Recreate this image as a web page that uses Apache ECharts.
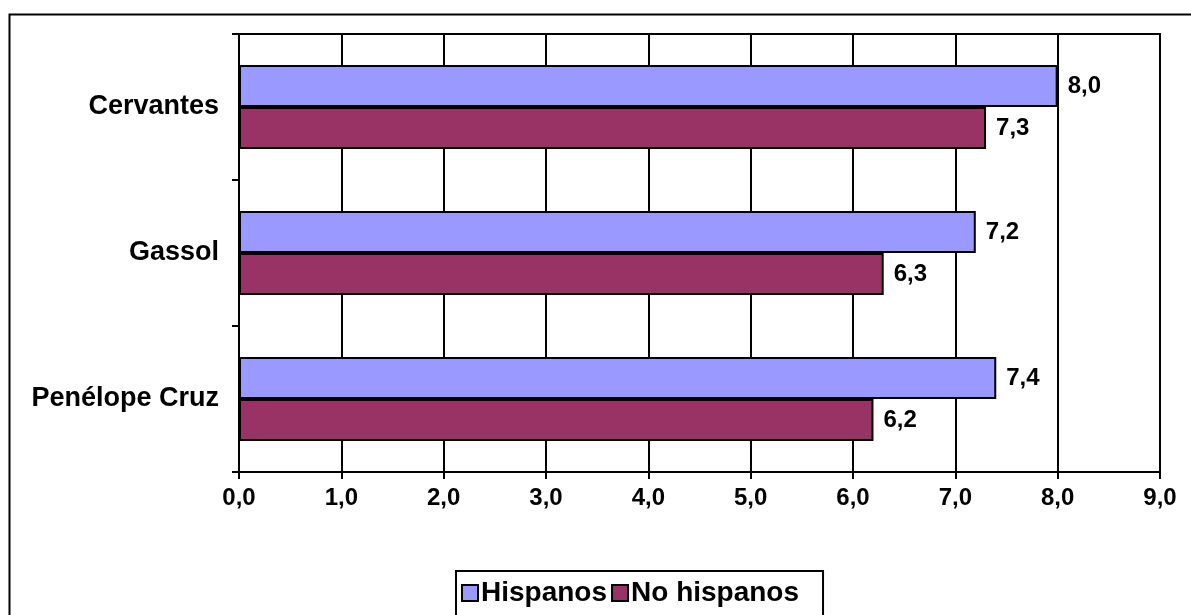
<!DOCTYPE html>
<html><head><meta charset="utf-8">
<script src="https://cdn.jsdelivr.net/npm/echarts@6/dist/echarts.min.js"></script>
<style>html,body{margin:0;padding:0;background:#fff}#c{width:1191px;height:615px}</style>
</head><body><div id="c"></div>
<script>
var categories = ['Cervantes', 'Gassol', 'Penélope Cruz'];
var hispanos = [8.0, 7.2, 7.4];
var noHispanos = [7.3, 6.3, 6.2];
var seriesNames = ['Hispanos', 'No hispanos'];
var xTicks = [0, 9, 1];

var fmt = function (v) { return Number(v).toFixed(1).replace('.', ','); };
var font = 'Arial, "Liberation Sans", sans-serif';
var chart = echarts.init(document.getElementById('c'), null, {renderer: 'canvas'});
var labelStyle = {show: true, position: 'right', distance: 10, color: '#000', fontFamily: font, fontWeight: 'bold', fontSize: 24, formatter: function (p) { return fmt(p.value); }};
chart.setOption({
  animation: false,
  backgroundColor: '#fff',
  graphic: [{type: 'rect', left: 7, top: 12, shape: {width: 1300, height: 700}, style: {fill: 'none', stroke: '#000', lineWidth: 2}, z: -1}],
  grid: {left: 239, right: 31, top: 34, bottom: 143, show: true, borderColor: '#000', borderWidth: 2},
  legend: {
    data: seriesNames, left: 456, top: 571, orient: 'horizontal',
    borderColor: '#000', borderWidth: 2, padding: [8, 24, 30, 5], itemGap: 4,
    itemWidth: 16, itemHeight: 16, icon: 'rect',
    itemStyle: {borderColor: '#000', borderWidth: 2},
    textStyle: {fontFamily: font, fontWeight: 'bold', fontSize: 28, color: '#000', padding: [0, 0, 0, -2]}
  },
  xAxis: {
    type: 'value', min: xTicks[0], max: xTicks[1], interval: xTicks[2],
    axisLine: {show: true, lineStyle: {color: '#000', width: 2}},
    axisTick: {show: true, length: 7, lineStyle: {color: '#000', width: 2}},
    splitLine: {show: true, lineStyle: {color: '#000', width: 2}},
    axisLabel: {formatter: fmt, margin: 14, color: '#000', fontFamily: font, fontWeight: 'bold', fontSize: 24}
  },
  yAxis: {
    type: 'category', data: categories, inverse: true,
    axisLine: {show: true, lineStyle: {color: '#000', width: 2}},
    axisTick: {show: true, length: 7, inside: false, lineStyle: {color: '#000', width: 2}},
    axisLabel: {margin: 20, color: '#000', fontFamily: font, fontWeight: 'bold', fontSize: 27}
  },
  series: [
    {name: seriesNames[0], type: 'bar', data: hispanos, barWidth: 42, barGap: '0%', barCategoryGap: '42%',
     itemStyle: {color: '#9999FF', borderColor: '#000', borderWidth: 2}, label: labelStyle},
    {name: seriesNames[1], type: 'bar', data: noHispanos, barWidth: 42, barGap: '0%',
     itemStyle: {color: '#993366', borderColor: '#000', borderWidth: 2}, label: labelStyle}
  ]
});
</script></body></html>
